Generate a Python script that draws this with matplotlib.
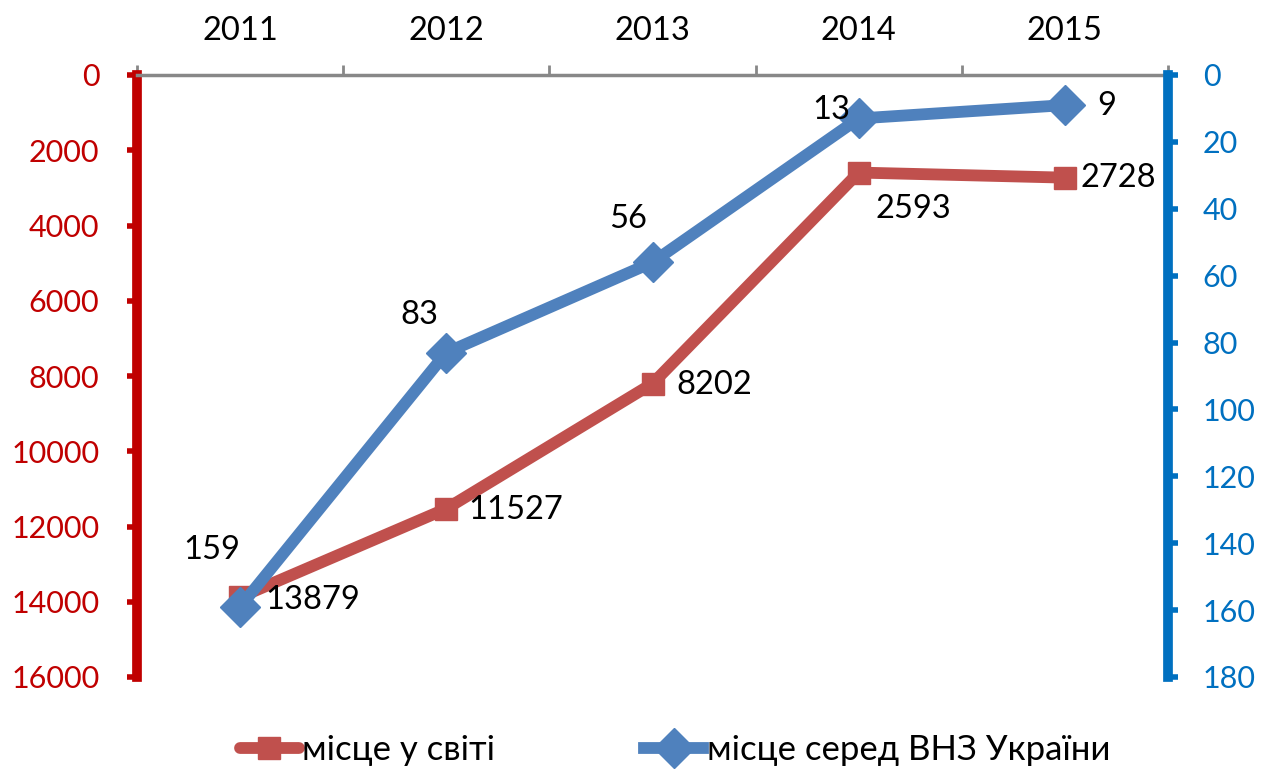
import matplotlib.pyplot as plt

plt.rcParams['font.family'] = ['Lato', 'DejaVu Sans']

# Data
years = ["2011", "2012", "2013", "2014", "2015"]
world_rank = [13879, 11527, 8202, 2593, 2728]
ukraine_rank = [159, 83, 56, 13, 9]

red = "#C0504D"
blue = "#4F81BD"
axis_red = "#C00000"
axis_blue = "#0070C0"

fig = plt.figure(figsize=(12.67, 7.70), dpi=100)
ax = fig.add_axes([137 / 1267, 1 - 677 / 770, (1168 - 137) / 1267, (677 - 75) / 770])
ax2 = ax.twinx()

x = range(len(years))

# World rank (left axis)
ax.plot(x, world_rank, color=red, lw=8.5, marker="s", ms=16,
        solid_capstyle="round", zorder=3, label="місце у світі")
ax.set_ylim(16000, 0)
ax.set_yticks(range(0, 16001, 2000))
ax.set_xlim(-0.5, 4.5)

# Ukraine rank (right axis)
ax2.plot(x, ukraine_rank, color=blue, lw=8.5, marker="D", ms=20,
         zorder=3, label="місце серед ВНЗ України")
ax2.set_ylim(180, 0)
ax2.set_yticks(range(0, 181, 20))

# X axis at top
ax.xaxis.tick_top()
ax.set_xticks([i - 0.5 for i in range(6)], minor=False)
ax.set_xticklabels([])
ax.set_xticks(list(x), minor=True)
ax.set_xticklabels(years, minor=True, fontsize=23.5)
ax.tick_params(axis="x", which="major", length=7, width=2, color="#888888", direction="out")
ax.tick_params(axis="x", which="minor", length=0, pad=21)

for s in ["bottom", "right"]:
    ax.spines[s].set_visible(False)
for s in ["bottom", "left", "top"]:
    ax2.spines[s].set_visible(False)
ax.spines["top"].set_color("#888888")
ax.spines["top"].set_linewidth(2.5)
ax.spines["left"].set_color(axis_red)
ax.spines["left"].set_linewidth(7)
ax2.spines["right"].set_color(axis_blue)
ax2.spines["right"].set_linewidth(7)

ax.tick_params(axis="y", colors=axis_red, labelsize=22, length=7, width=4, pad=20)
ax2.tick_params(axis="y", colors=axis_blue, labelsize=22, length=7, width=4, pad=18)

# Data labels (offsets in points)
world_offsets = [(18, -2), (16, -1), (17, -1), (12, -26), (11, 0)]
for i, v in enumerate(world_rank):
    dx, dy = world_offsets[i]
    ax.annotate(str(v), (i, v), xytext=(dx, dy), textcoords="offset points",
                fontsize=23.5, ha="left", va="center")

ukr_offsets = [(0, 41), (-6, 27), (-4, 31), (-6, 6), (23, -1)]
for i, v in enumerate(ukraine_rank):
    dx, dy = ukr_offsets[i]
    ha = "left" if i == 4 else "right"
    ax2.annotate(str(v), (i, v), xytext=(dx, dy), textcoords="offset points",
                 fontsize=23.5, ha=ha, va="center", zorder=5)

h1, l1 = ax.get_legend_handles_labels()
h2, l2 = ax2.get_legend_handles_labels()
fig.legend(h1 + h2, l1 + l2, loc="center", bbox_to_anchor=(675 / 1267, 1 - 750 / 770),
           ncol=2, frameon=False, fontsize=25, handlelength=1.7, columnspacing=4.3,
           handletextpad=0.1)

fig.savefig("out.png", dpi=100)
